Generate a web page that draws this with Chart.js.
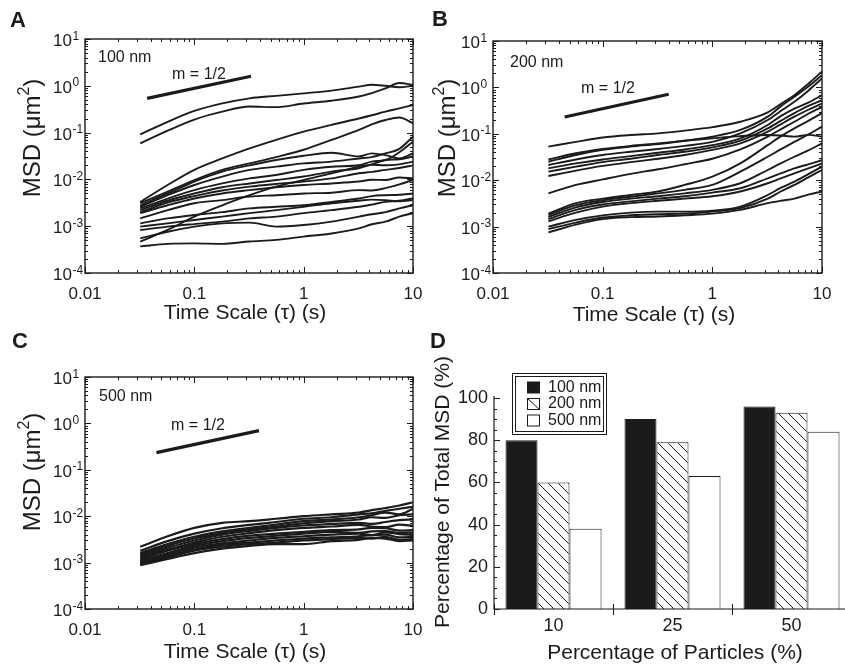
<!DOCTYPE html>
<html lang="en">
<head>
<meta charset="UTF-8">
<title>MSD</title>
<script src="https://cdn.jsdelivr.net/npm/chart.js"></script>
<style>
  html, body { margin: 0; padding: 0; background: #fff; overflow: hidden; }
  #page { position: relative; width: 845px; height: 669px; overflow: hidden; }
  canvas { position: absolute; }
</style>
</head>
<body>
<div id="page">
  <canvas id="chartA" width="425" height="330" style="left:0;top:0"></canvas>
  <canvas id="chartB" width="420" height="330" style="left:425px;top:0"></canvas>
  <canvas id="chartC" width="425" height="339" style="left:0;top:330px"></canvas>
  <canvas id="chartD" width="430" height="339" style="left:425px;top:330px"></canvas>
</div>
<script>
// time scale (s) where each MSD trace is read
const tau = [0.032, 0.057, 0.1, 0.18, 0.32, 0.56, 1, 1.8, 3.2, 4.2, 5.6, 7.5, 10];

// MSD traces (um^2), 100 nm particles
const msd100 = [
  [0.092, 0.17, 0.29, 0.42, 0.54, 0.61, 0.69, 0.79, 0.96, 1.05, 1.0, 0.93, 1.0],
  [0.059, 0.11, 0.19, 0.28, 0.36, 0.35, 0.42, 0.48, 0.59, 0.70, 0.88, 1.15, 1.04],
  [0.0033, 0.0076, 0.016, 0.028, 0.046, 0.070, 0.105, 0.146, 0.20, 0.235, 0.28, 0.33, 0.39],
  [0.0031, 0.0055, 0.0097, 0.016, 0.022, 0.030, 0.043, 0.070, 0.114, 0.15, 0.186, 0.21, 0.158],
  [0.0028, 0.0050, 0.0090, 0.0147, 0.020, 0.026, 0.032, 0.037, 0.031, 0.036, 0.033, 0.028, 0.036],
  [0.0026, 0.0046, 0.0076, 0.0115, 0.016, 0.0187, 0.022, 0.024, 0.028, 0.030, 0.036, 0.045, 0.082],
  [0.0024, 0.0039, 0.0059, 0.0082, 0.0105, 0.0124, 0.016, 0.0187, 0.020, 0.024, 0.026, 0.038, 0.064],
  [0.0022, 0.0035, 0.0050, 0.0068, 0.0082, 0.0097, 0.0115, 0.0147, 0.0173, 0.0205, 0.020, 0.021, 0.024],
  [0.0020, 0.0032, 0.0044, 0.0058, 0.0070, 0.0080, 0.0090, 0.0105, 0.0135, 0.0145, 0.016, 0.0175, 0.020],
  [0.0019, 0.0028, 0.0039, 0.0050, 0.0059, 0.0068, 0.0076, 0.0082, 0.0090, 0.0098, 0.0097, 0.011, 0.0105],
  [0.00147, 0.0022, 0.0031, 0.0036, 0.0043, 0.0046, 0.0050, 0.0052, 0.0059, 0.0058, 0.0065, 0.0078, 0.0097],
  [0.00115, 0.00147, 0.00174, 0.0020, 0.0024, 0.0026, 0.0028, 0.0033, 0.0039, 0.0044, 0.0046, 0.0047, 0.0050],
  [0.00098, 0.00115, 0.00136, 0.0016, 0.0019, 0.0022, 0.0026, 0.0031, 0.0035, 0.0037, 0.0036, 0.0034, 0.0036],
  [0.00083, 0.00098, 0.00111, 0.00125, 0.00147, 0.0016, 0.0019, 0.0022, 0.0026, 0.0029, 0.0033, 0.0035, 0.0039],
  [0.00055, 0.00076, 0.00098, 0.00115, 0.00119, 0.00098, 0.00106, 0.00125, 0.0016, 0.0018, 0.0020, 0.0024, 0.0028],
  [0.00047, 0.00083, 0.0016, 0.0028, 0.0046, 0.0070, 0.0097, 0.0135, 0.0187, 0.021, 0.026, 0.027, 0.031],
  [0.00037, 0.00042, 0.00043, 0.00042, 0.00047, 0.00051, 0.0006, 0.0007, 0.0009, 0.0011, 0.00125, 0.0016, 0.0019]
];

// 200 nm particles
const msd200 = [
  [0.053, 0.067, 0.083, 0.094, 0.102, 0.117, 0.139, 0.182, 0.29, 0.44, 0.68, 1.2, 2.2],
  [0.028, 0.038, 0.047, 0.055, 0.062, 0.071, 0.080, 0.089, 0.094, 0.092, 0.087, 0.095, 0.087],
  [0.025, 0.035, 0.045, 0.053, 0.060, 0.071, 0.087, 0.121, 0.234, 0.39, 0.63, 1.05, 1.84],
  [0.0213, 0.028, 0.035, 0.041, 0.047, 0.055, 0.067, 0.102, 0.198, 0.31, 0.49, 0.85, 1.56],
  [0.018, 0.023, 0.028, 0.033, 0.039, 0.046, 0.057, 0.080, 0.155, 0.24, 0.35, 0.47, 0.68],
  [0.0153, 0.0196, 0.0245, 0.029, 0.035, 0.041, 0.051, 0.071, 0.131, 0.19, 0.28, 0.40, 0.53],
  [0.0123, 0.0161, 0.0203, 0.0245, 0.029, 0.035, 0.045, 0.062, 0.111, 0.16, 0.234, 0.33, 0.45],
  [0.0052, 0.0079, 0.0104, 0.0137, 0.0172, 0.0221, 0.029, 0.046, 0.087, 0.125, 0.182, 0.27, 0.38],
  [0.0019, 0.0032, 0.0040, 0.0048, 0.0057, 0.0079, 0.0119, 0.023, 0.057, 0.088, 0.131, 0.19, 0.28],
  [0.00175, 0.0029, 0.0037, 0.0044, 0.0052, 0.0062, 0.0079, 0.0153, 0.032, 0.046, 0.067, 0.097, 0.143],
  [0.0016, 0.0026, 0.0034, 0.0040, 0.0045, 0.0052, 0.0062, 0.0086, 0.0166, 0.023, 0.032, 0.044, 0.062],
  [0.00145, 0.0023, 0.0030, 0.0035, 0.0040, 0.0045, 0.0054, 0.0067, 0.011, 0.014, 0.018, 0.022, 0.027],
  [0.0013, 0.0020, 0.0027, 0.0032, 0.0036, 0.0040, 0.0045, 0.0057, 0.0086, 0.011, 0.0141, 0.018, 0.023],
  [0.0010, 0.0014, 0.00175, 0.0020, 0.0021, 0.0021, 0.0022, 0.0027, 0.0048, 0.0068, 0.0093, 0.0135, 0.0196],
  [0.00088, 0.00122, 0.00157, 0.00175, 0.00185, 0.0019, 0.0021, 0.0025, 0.0040, 0.0057, 0.0079, 0.0115, 0.0166],
  [0.00075, 0.0011, 0.00145, 0.0016, 0.00165, 0.00175, 0.0019, 0.0023, 0.0032, 0.0036, 0.0040, 0.0049, 0.0057]
];

// 500 nm particles
const msd500 = [
  [0.0022, 0.0037, 0.0056, 0.0072, 0.0078, 0.0088, 0.010, 0.011, 0.012, 0.0135, 0.015, 0.017, 0.020],
  [0.0018, 0.0029, 0.0042, 0.0055, 0.0065, 0.0075, 0.0088, 0.0095, 0.011, 0.0115, 0.013, 0.0145, 0.016],
  [0.0016, 0.0025, 0.0036, 0.0047, 0.0056, 0.0066, 0.0078, 0.0085, 0.0095, 0.0105, 0.012, 0.011, 0.0145],
  [0.0015, 0.0023, 0.0033, 0.0043, 0.0052, 0.0060, 0.0070, 0.0078, 0.0085, 0.0095, 0.0092, 0.0105, 0.011],
  [0.0014, 0.0021, 0.0030, 0.0040, 0.0048, 0.0056, 0.0063, 0.0068, 0.0072, 0.0068, 0.0075, 0.0082, 0.0085],
  [0.0013, 0.0019, 0.0027, 0.0036, 0.0043, 0.0050, 0.0056, 0.0060, 0.0065, 0.0060, 0.0058, 0.0066, 0.0062],
  [0.0012, 0.0018, 0.0025, 0.0032, 0.0038, 0.0042, 0.0046, 0.0050, 0.0052, 0.0056, 0.0055, 0.0049, 0.0050],
  [0.0011, 0.0016, 0.0023, 0.0029, 0.0034, 0.0038, 0.0042, 0.0046, 0.0044, 0.0047, 0.0048, 0.0043, 0.0045],
  [0.00105, 0.0015, 0.0021, 0.0026, 0.0030, 0.0034, 0.0037, 0.0040, 0.0042, 0.0039, 0.0045, 0.0041, 0.0040],
  [0.0010, 0.0014, 0.0019, 0.0024, 0.0027, 0.0030, 0.0033, 0.0035, 0.0037, 0.0039, 0.0040, 0.0035, 0.0036],
  [0.00095, 0.0013, 0.0018, 0.0022, 0.0025, 0.0027, 0.0030, 0.0032, 0.0034, 0.0033, 0.0036, 0.0031, 0.0032],
  [0.00088, 0.0012, 0.0016, 0.0020, 0.0023, 0.0025, 0.0025, 0.0029, 0.0031, 0.0034, 0.0033, 0.0029, 0.0030]
];

// m = 1/2 reference segments (tau, MSD)
const slopeTauA = [0.037, 0.33];
const slopeMsdA = [0.54, 1.6];
const slopeTauB = [0.045, 0.40];
const slopeMsdB = [0.23, 0.71];
const slopeTauC = [0.045, 0.39];
const slopeMsdC = [0.234, 0.70];

const xTickLabels = ['0.01', '0.1', '1', '10'];
const yTickExps = [-4, -3, -2, -1, 0, 1];

// panel D
const particleShare = ['10', '25', '50'];
const sizeLabels = ['100 nm', '200 nm', '500 nm'];
const share100 = [80, 90, 96];
const share200 = [60, 79, 93];
const share500 = [38, 63, 84];
const yTicksD = [0, 20, 40, 60, 80, 100];

const FONT = '"Liberation Sans", Arial, Helvetica, sans-serif';
const INK = '#1b1b1b';

// box, mirrored log ticks, labels and titles for the MSD panels
const logFrame = {
  id: 'logFrame',
  afterDraw(chart, args, o) {
    const ctx = chart.ctx, a = chart.chartArea;
    const xs = chart.scales.x, ys = chart.scales.y;
    ctx.save();
    ctx.strokeStyle = INK;
    ctx.lineWidth = 1.4;
    ctx.strokeRect(a.left, a.top, a.right - a.left, a.bottom - a.top);

    ctx.lineWidth = 1;
    ctx.beginPath();
    for (let e = -2; e <= 1; e++) {
      for (let m = 1; m <= 9; m++) {
        const v = m * Math.pow(10, e);
        if (v > 10.001) break;
        const px = Math.round(xs.getPixelForValue(v)) + 0.5;
        const len = m === 1 ? 6 : 3;
        ctx.moveTo(px, a.bottom); ctx.lineTo(px, a.bottom - len);
        ctx.moveTo(px, a.top); ctx.lineTo(px, a.top + len);
      }
    }
    for (let e = -4; e <= 1; e++) {
      for (let m = 1; m <= 9; m++) {
        const v = m * Math.pow(10, e);
        if (v > 10.001) break;
        const py = Math.round(ys.getPixelForValue(v)) + 0.5;
        const len = m === 1 ? 6 : 3;
        ctx.moveTo(a.left, py); ctx.lineTo(a.left + len, py);
        ctx.moveTo(a.right, py); ctx.lineTo(a.right - len, py);
      }
    }
    ctx.stroke();

    ctx.fillStyle = INK;
    // x tick labels
    ctx.font = '17px ' + FONT;
    ctx.textAlign = 'center';
    ctx.textBaseline = 'middle';
    xTickLabels.forEach(t => {
      ctx.fillText(t, xs.getPixelForValue(parseFloat(t)), a.bottom + 21);
    });
    // y tick labels 10^n
    ctx.textAlign = 'left';
    ctx.textBaseline = 'alphabetic';
    yTickExps.forEach(e => {
      const py = ys.getPixelForValue(Math.pow(10, e));
      const x0 = a.left - 32;
      ctx.font = '17px ' + FONT;
      ctx.fillText('10', x0, py + 7);
      const w = ctx.measureText('10').width;
      ctx.font = '12px ' + FONT;
      ctx.fillText(String(e), x0 + w + 0.5, py + 0.5);
    });

    // annotations inside the box
    ctx.font = '16px ' + FONT;
    ctx.textBaseline = 'middle';
    ctx.textAlign = 'left';
    ctx.fillText(o.size, o.sizeX, o.sizeY);
    ctx.textAlign = 'center';
    ctx.fillText('m = 1/2', o.slopeX, o.slopeY);

    // x title
    ctx.font = '21px ' + FONT;
    ctx.fillText('Time Scale (\u03C4) (s)', o.xTitleX, o.xTitleY);

    // y title with superscript
    ctx.save();
    ctx.translate(o.yTitleX, o.yTitleY);
    ctx.rotate(-Math.PI / 2);
    ctx.textAlign = 'left';
    ctx.textBaseline = 'alphabetic';
    const big = '24px ' + FONT, small = '16px ' + FONT;
    ctx.font = big;
    const w1 = ctx.measureText('MSD (\u03BCm').width;
    const w3 = ctx.measureText(')').width;
    ctx.font = small;
    const w2 = ctx.measureText('2').width;
    const x = -(w1 + w2 + w3) / 2;
    ctx.font = big;
    ctx.fillText('MSD (\u03BCm', x, 8.5);
    ctx.font = small;
    ctx.fillText('2', x + w1, -2);
    ctx.font = big;
    ctx.fillText(')', x + w1 + w2, 8.5);
    ctx.restore();

    // panel letter
    ctx.font = 'bold 22px ' + FONT;
    ctx.textAlign = 'left';
    ctx.textBaseline = 'alphabetic';
    ctx.fillText(o.letter, o.letterX, o.letterY);
    ctx.restore();
  }
};

function curveSets(series, slopeTau, slopeMsd, width) {
  const sets = series.map(s => ({
    data: s.map((v, i) => ({ x: tau[i], y: v })),
    borderColor: INK,
    borderWidth: width,
    pointRadius: 0,
    cubicInterpolationMode: 'monotone'
  }));
  sets.push({
    data: slopeTau.map((v, i) => ({ x: v, y: slopeMsd[i] })),
    borderColor: INK,
    borderWidth: 3.2,
    pointRadius: 0,
    tension: 0
  });
  return sets;
}

function logOptions(pad, frame) {
  return {
    responsive: false,
    animation: false,
    events: [],
    layout: { padding: pad },
    plugins: { legend: { display: false }, tooltip: { enabled: false }, logFrame: frame },
    scales: {
      x: { type: 'logarithmic', min: 0.01, max: 10, display: false },
      y: { type: 'logarithmic', min: 1e-4, max: 10, display: false }
    }
  };
}

new Chart(document.getElementById('chartA'), {
  type: 'line',
  data: { datasets: curveSets(msd100, slopeTauA, slopeMsdA, 1.9) },
  options: logOptions({ left: 85, top: 39, right: 12, bottom: 57 }, {
    letter: 'A', letterX: 10, letterY: 27, size: '100 nm', sizeX: 98, sizeY: 58,
    slopeX: 199, slopeY: 75, xTitleX: 245, xTitleY: 313, yTitleX: 31, yTitleY: 138
  }),
  plugins: [logFrame]
});

new Chart(document.getElementById('chartB'), {
  type: 'line',
  data: { datasets: curveSets(msd200, slopeTauB, slopeMsdB, 1.9) },
  options: logOptions({ left: 68, top: 41, right: 23, bottom: 57 }, {
    letter: 'B', letterX: 7, letterY: 26, size: '200 nm', sizeX: 85, sizeY: 63,
    slopeX: 183, slopeY: 89, xTitleX: 229, xTitleY: 315, yTitleX: 21, yTitleY: 138
  }),
  plugins: [logFrame]
});

new Chart(document.getElementById('chartC'), {
  type: 'line',
  data: { datasets: curveSets(msd500, slopeTauC, slopeMsdC, 2.2) },
  options: logOptions({ left: 85, top: 47, right: 12, bottom: 60 }, {
    letter: 'C', letterX: 12, letterY: 18, size: '500 nm', sizeX: 99, sizeY: 67,
    slopeX: 198, slopeY: 96, xTitleX: 245, xTitleY: 322, yTitleX: 31, yTitleY: 142
  }),
  plugins: [logFrame]
});

// panel D: hatched fill for the 200 nm bars
const ctxD = document.getElementById('chartD').getContext('2d');
function makeHatch() {
  const c = document.createElement('canvas');
  c.width = 10; c.height = 10;
  const g = c.getContext('2d');
  g.fillStyle = '#fff';
  g.fillRect(0, 0, 10, 10);
  g.strokeStyle = INK;
  g.lineWidth = 1;
  g.beginPath();
  [-10, 0, 10].forEach(k => { g.moveTo(k, 0); g.lineTo(k + 10, 10); });
  g.stroke();
  return ctxD.createPattern(c, 'repeat');
}
const hatch = makeHatch();

const barFrame = {
  id: 'barFrame',
  afterDraw(chart) {
    const ctx = chart.ctx, a = chart.chartArea;
    const xs = chart.scales.x, ys = chart.scales.y;
    ctx.save();
    ctx.strokeStyle = INK;
    ctx.lineWidth = 1.2;
    ctx.beginPath();
    ctx.moveTo(a.left, a.top - 2); ctx.lineTo(a.left, a.bottom);
    ctx.lineTo(a.right, a.bottom);
    ctx.stroke();

    ctx.lineWidth = 1;
    ctx.beginPath();
    for (let v = 0; v <= 100; v += 5) {
      const py = Math.round(ys.getPixelForValue(v)) + 0.5;
      const len = v % 20 === 0 ? 6 : 3;
      ctx.moveTo(a.left, py); ctx.lineTo(a.left + len, py);
    }
    for (let i = 0; i < particleShare.length; i++) {
      const px = Math.round(xs.getPixelForValue(i - 0.5)) + 0.5;
      ctx.moveTo(px, a.bottom - 5); ctx.lineTo(px, a.bottom + 6);
    }
    ctx.stroke();

    ctx.fillStyle = INK;
    ctx.font = '18px ' + FONT;
    ctx.textAlign = 'right';
    ctx.textBaseline = 'middle';
    yTicksD.forEach(v => ctx.fillText(String(v), a.left - 6, ys.getPixelForValue(v)));
    ctx.textAlign = 'center';
    particleShare.forEach((t, i) => ctx.fillText(t, xs.getPixelForValue(i), a.bottom + 17));

    ctx.font = '21px ' + FONT;
    ctx.fillText('Percentage of Particles (%)', 250, 323);
    ctx.save();
    ctx.translate(18, 162);
    ctx.rotate(-Math.PI / 2);
    ctx.fillText('Percentage of Total MSD (%)', 0, 0);
    ctx.restore();

    // legend with double border
    ctx.lineWidth = 1;
    ctx.strokeRect(87.5, 43.5, 94, 61);
    ctx.strokeRect(90.5, 46.5, 88, 55);
    const rows = [57.5, 74, 90.5];
    ctx.fillStyle = INK;
    ctx.fillRect(102, rows[0] - 6, 13, 12);
    ctx.fillStyle = '#fff';
    ctx.fillRect(102, rows[1] - 6, 13, 12);
    ctx.fillRect(102, rows[2] - 6, 13, 12);
    ctx.strokeRect(102.5, rows[1] - 5.5, 12, 11);
    ctx.strokeRect(102.5, rows[2] - 5.5, 12, 11);
    ctx.beginPath();
    ctx.moveTo(102.5, rows[1] - 5.5); ctx.lineTo(114.5, rows[1] + 5.5);
    ctx.stroke();
    ctx.fillStyle = INK;
    ctx.font = '16px ' + FONT;
    ctx.textAlign = 'left';
    sizeLabels.forEach((t, i) => ctx.fillText(t, 123, rows[i]));

    ctx.font = 'bold 22px ' + FONT;
    ctx.textBaseline = 'alphabetic';
    ctx.fillText('D', 5, 18);
    ctx.restore();
  }
};

new Chart(ctxD, {
  type: 'bar',
  data: {
    labels: particleShare,
    datasets: [
      { label: sizeLabels[0], data: share100, backgroundColor: INK, borderColor: INK, borderWidth: 1 },
      { label: sizeLabels[1], data: share200, backgroundColor: hatch, borderColor: INK, borderWidth: 1 },
      { label: sizeLabels[2], data: share500, backgroundColor: '#fff', borderColor: INK, borderWidth: 1 }
    ]
  },
  options: {
    responsive: false,
    animation: false,
    events: [],
    layout: { padding: { left: 69, right: 4, top: 68, bottom: 60 } },
    datasets: { bar: { categoryPercentage: 0.807, barPercentage: 1 } },
    plugins: { legend: { display: false }, tooltip: { enabled: false } },
    scales: {
      x: { display: false },
      y: { display: false, min: 0, max: 100 }
    }
  },
  plugins: [barFrame]
});
</script>
</body>
</html>
